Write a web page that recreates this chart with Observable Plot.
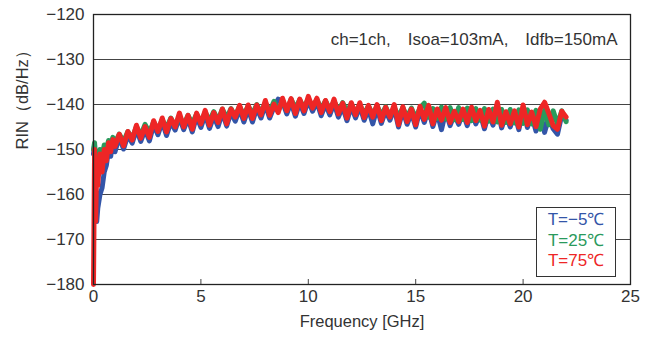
<!DOCTYPE html>
<html>
<head>
<meta charset="utf-8">
<script src="https://cdn.jsdelivr.net/npm/d3@7"></script>
<script src="https://cdn.jsdelivr.net/npm/@observablehq/plot@0.6"></script>
<style>
  html, body { margin: 0; padding: 0; background: #fff; }
  #wrap { position: relative; width: 654px; height: 340px; font-family: "Liberation Sans", Arial, sans-serif; }
  #legend { position: absolute; left: 536px; top: 207px; width: 78px; height: 66px; border: 1.3px solid #333; background: #fff;
            font-size: 17px; line-height: 20.5px; text-align: center; padding-top: 2px; box-sizing: content-box; }
</style>
</head>
<body>
<div id="wrap"></div>
<script>
// ---- data ----
const freq = [0, 0.05, 0.1, 0.15, 0.2, 0.3, 0.4, 0.5, 0.6, 0.7, 0.8, 0.9, 1.0,
  1.2, 1.4, 1.6, 1.8, 2.0, 2.2, 2.4, 2.6, 2.8, 3.0, 3.2, 3.4, 3.6, 3.8, 4.0, 4.2, 4.4, 4.6, 4.8, 5.0,
  5.2, 5.4, 5.6, 5.8, 6.0, 6.2, 6.4, 6.6, 6.8, 7.0, 7.2, 7.4, 7.6, 7.8, 8.0, 8.2, 8.4, 8.6, 8.8, 9.0,
  9.2, 9.4, 9.6, 9.8, 10.0, 10.2, 10.4, 10.6, 10.8, 11.0, 11.2, 11.4, 11.6, 11.8, 12.0, 12.2, 12.4, 12.6, 12.8, 13.0,
  13.2, 13.4, 13.6, 13.8, 14.0, 14.2, 14.4, 14.6, 14.8, 15.0, 15.2, 15.4, 15.6, 15.8, 16.0, 16.2, 16.4, 16.6, 16.8, 17.0,
  17.2, 17.4, 17.6, 17.8, 18.0, 18.2, 18.4, 18.6, 18.8, 19.0, 19.2, 19.4, 19.6, 19.8, 20.0, 20.2, 20.4, 20.6, 20.8, 21.0,
  21.2, 21.4, 21.6, 21.8, 22.0];

const rinM5 = [-151, -149, -158, -166, -163, -160, -158.5, -155, -153.5, -150, -151.5, -148.5, -150.5,
  -147.2, -149.9, -146.8, -148.6, -145.5, -148.2, -145.6, -148.1, -144.5, -146.7, -143.8, -146.9, -143.9, -145.7, -142.8, -145.6, -143.1, -146.1, -142.6, -145.1,
  -142.2, -145.3, -142.6, -144.9, -141.8, -144.8, -141.8, -143.7, -141.0, -143.9, -141.0, -143.9, -140.8, -143.0, -140.0, -143.0, -140.6, -138.8, -139.4, -142.1,
  -139.5, -142.6, -139.6, -142.0, -139.1, -141.5, -139.4, -142.5, -139.9, -142.3, -139.7, -142.8, -140.5, -143.6, -140.4, -143.0, -140.4, -143.5, -141.0, -144.3,
  -140.8, -144.2, -141.4, -143.5, -140.8, -145.0, -141.3, -144.4, -141.8, -145.0, -141.2, -144.0, -141.0, -144.9, -141.8, -145.6, -141.5, -144.7, -142.2, -144.4,
  -141.8, -144.7, -141.4, -144.3, -142.0, -145.4, -141.9, -144.6, -140.5, -145.2, -142.3, -145.0, -142.1, -145.6, -141.0, -145.1, -142.4, -145.9, -141.8, -146.2,
  -142.8, -145.4, -146.6, -142.3, -143.5];

const rin25 = [-150, -148.5, -153, -151, -153, -150, -151.5, -149, -150, -148, -149, -147.3, -148.5,
  -146.6, -148.2, -146.0, -147.5, -144.9, -146.8, -144.4, -146.2, -143.9, -145.6, -143.4, -145.2, -143.0, -144.8, -142.6, -144.5, -142.4, -144.2, -142.1, -143.9,
  -141.7, -143.6, -141.6, -143.5, -141.0, -143.0, -140.9, -142.6, -140.4, -142.4, -140.3, -142.1, -140.0, -141.8, -139.6, -141.6, -139.3, -141.4, -139.1, -141.2,
  -138.8, -140.9, -138.9, -140.8, -138.7, -140.6, -138.9, -140.9, -139.2, -141.0, -139.3, -141.3, -139.6, -141.5, -139.8, -141.8, -140.1, -142.0, -140.3, -142.2,
  -140.3, -142.4, -140.5, -142.6, -140.6, -142.7, -140.7, -142.8, -140.8, -143.0, -140.8, -139.7, -142.8, -140.9, -143.1, -140.6, -143.2, -140.7, -143.4, -140.7,
  -143.3, -140.8, -143.6, -140.9, -143.5, -140.9, -143.7, -141.0, -143.9, -141.1, -144.0, -141.1, -144.1, -141.2, -144.2, -141.2, -144.3, -141.3, -145.5, -141.3,
  -144.5, -141.4, -144.4, -141.4, -143.8];

const rin75 = [-180, -150, -166, -153, -158, -151, -155, -150, -152.5, -148.5, -150.5, -147.8, -149.3,
  -146.6, -149.2, -146.0, -147.9, -144.6, -147.5, -144.9, -147.3, -143.6, -146.0, -143.0, -146.1, -143.1, -145.0, -141.9, -145.0, -142.4, -145.5, -141.9, -144.3,
  -141.3, -144.6, -141.8, -144.0, -141.0, -144.3, -141.0, -142.8, -140.2, -143.1, -140.1, -143.1, -140.1, -142.3, -139.1, -142.4, -139.9, -141.8, -138.6, -141.4,
  -138.7, -142.0, -138.8, -141.4, -138.2, -140.8, -138.6, -141.8, -139.1, -141.6, -138.8, -142.1, -139.7, -143.0, -139.6, -142.3, -139.6, -142.9, -140.2, -142.8,
  -140.0, -143.6, -140.6, -142.8, -140.0, -144.5, -140.5, -143.8, -141.0, -144.5, -140.4, -143.3, -140.2, -144.3, -141.0, -143.5, -140.7, -144.0, -141.5, -143.8,
  -141.0, -144.0, -140.6, -143.6, -141.3, -144.8, -141.1, -143.9, -139.5, -144.6, -141.6, -144.3, -141.4, -145.0, -140.1, -144.5, -141.7, -144.9, -141.0, -139.5,
  -142.0, -144.7, -145.5, -141.5, -142.8];

const seriesNames = ["T=−5℃", "T=25℃", "T=75℃"];
const seriesColors = ["#3355a8", "#2a9a5c", "#ee2626"];
const xTicks = [0, 5, 10, 15, 20, 25];
const xTickLabels = ["0", "5", "10", "15", "20", "25"];
const xInnerTicks = [5, 10, 15, 20];
const yTicks = [-180, -170, -160, -150, -140, -130, -120];
const yTickLabels = ["−180", "−170", "−160", "−150", "−140", "−130", "−120"];
const yGrid = [-170, -160, -150, -140, -130];
const annotation = "ch=1ch,\u2003Isoa=103mA,\u2003Idfb=150mA";
const xLabel = "Frequency [GHz]";
const yLabel = "RIN（dB/Hz）";

// ---- build ----
const allSeries = [rinM5, rin25, rin75];
const rows = allSeries.map((vals, s) => vals.map((v, i) => ({f: freq[i], rin: v, s})));

const lineMarks = rows.map((r, s) => Plot.line(r, {
  x: "f", y: "rin", stroke: seriesColors[s], strokeWidth: 5,
  strokeLinejoin: "round", strokeLinecap: "round"
}));

const chart = Plot.plot({
  width: 654, height: 340,
  marginLeft: 93, marginRight: 24, marginTop: 14, marginBottom: 56,
  style: {fontFamily: "'Liberation Sans', Arial, sans-serif", fontSize: "17px", color: "#333", background: "transparent"},
  x: {domain: [0, 25]},
  y: {domain: [-180, -120]},
  marks: [
    Plot.ruleY(yGrid, {stroke: "#444", strokeWidth: 1}),
    Plot.ruleX(xInnerTicks, {y1: -180, y2: -180, insetBottom: 5, stroke: "#444", strokeWidth: 1}),
    ...lineMarks,
    Plot.frame({stroke: "#222", strokeWidth: 1.3}),
    Plot.axisX({ticks: xTicks, tickSize: 0, tickPadding: 5, tickFormat: (d, i) => xTickLabels[i], fontSize: 17, label: null}),
    Plot.axisY({ticks: yTicks, tickSize: 0, tickPadding: 9, tickFormat: (d, i) => yTickLabels[i], fontSize: 17, label: null}),
    Plot.text([xLabel], {text: d => d, frameAnchor: "bottom", dy: 42, fontSize: 16.5, fill: "#333"}),
    Plot.text([yLabel], {text: d => d, frameAnchor: "left", dx: -71, rotate: -90, fontSize: 16.5, fill: "#333"}),
    Plot.text([annotation], {text: d => d, frameAnchor: "top-right", textAnchor: "end", dx: -13, dy: 18, fontSize: 17, fill: "#333"})
  ]
});

const wrap = document.getElementById("wrap");
wrap.appendChild(chart);
chart.style.position = "absolute";
chart.style.left = "0px";
chart.style.top = "0px";

const legend = document.createElement("div");
legend.id = "legend";
seriesNames.forEach((name, i) => {
  const d = document.createElement("div");
  d.textContent = name;
  d.style.color = seriesColors[i];
  legend.appendChild(d);
});
wrap.appendChild(legend);
</script>
</body>
</html>
